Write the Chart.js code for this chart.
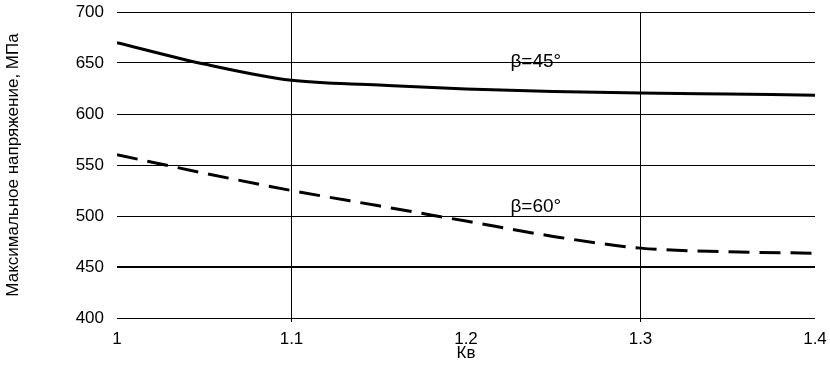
<!DOCTYPE html>
<html>
<head>
<meta charset="utf-8">
<script src="https://cdn.jsdelivr.net/npm/chart.js@4"></script>
<style>
  html, body { margin: 0; padding: 0; background: #fff; }
  #wrap { width: 830px; height: 372px; }
</style>
</head>
<body>
<div id="wrap"><canvas id="chart" width="830" height="372"></canvas></div>
<script>
// data
const kv = [1.0, 1.05, 1.1, 1.15, 1.2, 1.25, 1.3, 1.35, 1.4];
const beta45 = [670, 649, 633, 628.5, 624.5, 622, 620.5, 619.5, 618.5];
const beta60 = [560, 542, 525, 510, 495, 480, 468.5, 465, 463.5];
const seriesNames = ['β=45°', 'β=60°'];
const yTicks = [400, 450, 500, 550, 600, 650, 700];

const FONT = 'Arial, "Liberation Sans", sans-serif';

// curve labels placed in data coordinates
const curveLabels = {
  id: 'curveLabels',
  afterDatasetsDraw(chart) {
    const { ctx, scales: { x, y } } = chart;
    const spots = [[1.24, 651], [1.24, 509]];
    ctx.save();
    ctx.fillStyle = '#000';
    ctx.font = '19px ' + FONT;
    ctx.textAlign = 'center';
    ctx.textBaseline = 'middle';
    seriesNames.forEach((t, i) => {
      ctx.fillText(t, x.getPixelForValue(spots[i][0]), y.getPixelForValue(spots[i][1]));
    });
    ctx.restore();
  }
};

const isMajor = v => Math.abs(v - 1.1) < 1e-6 || Math.abs(v - 1.3) < 1e-6;

new Chart(document.getElementById('chart').getContext('2d'), {
  type: 'line',
  data: {
    datasets: [
      {
        label: seriesNames[0],
        data: kv.map((k, i) => ({ x: k, y: beta45[i] })),
        borderColor: '#000',
        borderWidth: 3,
        pointRadius: 0,
        tension: 0.4,
        cubicInterpolationMode: 'monotone'
      },
      {
        label: seriesNames[1],
        data: kv.map((k, i) => ({ x: k, y: beta60[i] })),
        borderColor: '#000',
        borderWidth: 3,
        borderDash: [21, 10],
        pointRadius: 0,
        tension: 0.4,
        cubicInterpolationMode: 'monotone'
      }
    ]
  },
  options: {
    responsive: false,
    animation: false,
    layout: { padding: { top: 12, right: 15, bottom: 0, left: 0 } },
    plugins: {
      legend: { display: false },
      tooltip: { enabled: false }
    },
    scales: {
      x: {
        type: 'linear',
        min: 1,
        max: 1.4,
        afterFit: s => { s.height = 54; s.paddingLeft = 0; s.paddingRight = 0; },
        border: { display: false },
        grid: {
          color: c => (c.tick && isMajor(c.tick.value)) ? '#000' : 'rgba(0,0,0,0)',
          lineWidth: 1,
          drawTicks: true,
          tickLength: 4
        },
        ticks: {
          stepSize: 0.1,
          color: '#000',
          padding: 7,
          maxRotation: 0,
          font: { family: FONT, size: 17 },
          callback: v => String(Math.round(v * 10) / 10)
        },
        title: {
          display: true,
          text: 'Кв',
          color: '#000',
          font: { family: FONT, size: 17 },
          padding: { top: 0, bottom: 8 }
        }
      },
      y: {
        min: 400,
        max: 700,
        afterFit: s => { s.width = 117; s.paddingTop = 0; s.paddingBottom = 0; },
        afterBuildTicks: s => { s.ticks = yTicks.map(v => ({ value: v })); },
        border: { display: false },
        grid: {
          color: '#000',
          lineWidth: c => (c.tick && c.tick.value === 450) ? 2 : 1,
          drawTicks: false
        },
        ticks: {
          color: '#000',
          padding: 13,
          font: { family: FONT, size: 17 }
        },
        title: {
          display: true,
          text: 'Максимальное напряжение, МПа',
          color: '#000',
          font: { family: FONT, size: 17 },
          padding: { top: 3, bottom: 0 }
        }
      }
    }
  },
  plugins: [curveLabels]
});
</script>
</body>
</html>
